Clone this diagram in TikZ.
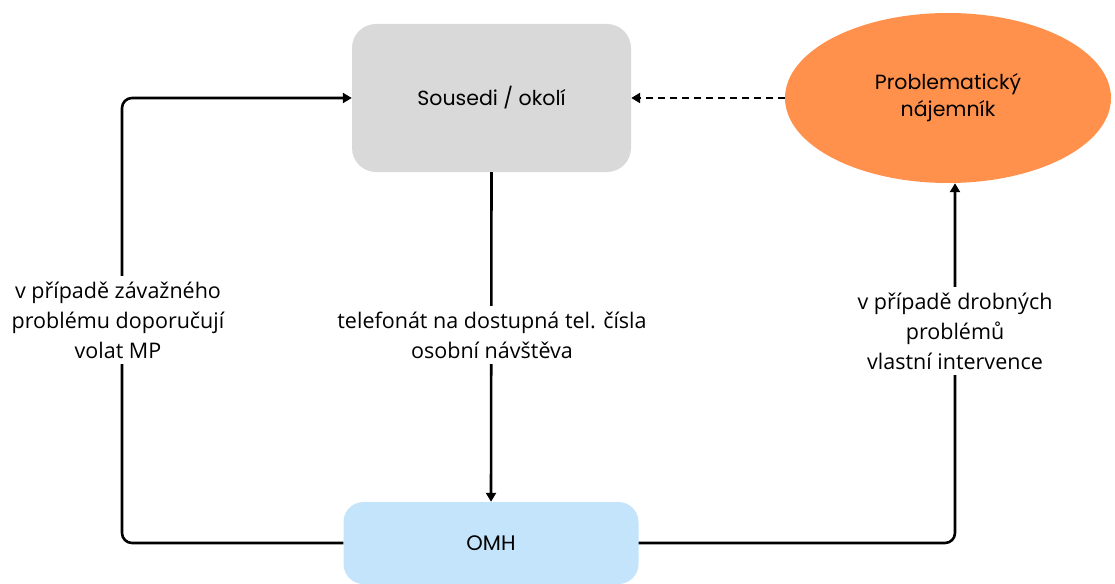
\documentclass[tikz,border=0pt]{standalone}
\usepackage{fontspec}
\setmainfont{Open Sans}
\newfontfamily\boxfont{Poppins}
\usetikzlibrary{shapes.geometric,arrows.meta}
\definecolor{boxgray}{HTML}{D9D9D9}
\definecolor{tenant}{HTML}{FF914D}
\definecolor{office}{HTML}{C4E4FC}
\tikzset{
  flow/.style={line width=2.6pt, rounded corners=10pt},
  tip/.style={-{Triangle[length=9pt,width=10pt]}},
  gbox/.style={fill=boxgray, rounded corners=24pt, minimum width=279pt, minimum height=148pt, font=\boxfont\fontsize{20.5}{25}\selectfont},
  bbox/.style={fill=office, rounded corners=20pt, minimum width=295pt, minimum height=82pt, font=\boxfont\fontsize{21}{25}\selectfont},
  obox/.style={ellipse, fill=tenant, minimum width=326pt, minimum height=170pt, inner sep=0pt, font=\boxfont\fontsize{20.5}{27}\selectfont, align=center},
  lbl/.style={fill=white, align=center, inner sep=6pt, font=\fontsize{21.5}{30}\selectfont}
}
\begin{document}
\begin{tikzpicture}[x=1pt,y=-1pt]
\useasboundingbox (0,0) rectangle (1115,583);
% boxes
\node[gbox] (sous) at (491.5,98) {Sousedi / okolí};
\node[obox] (prob) at (948,98) {Problematický\\nájemník};
\node[bbox] (omh) at (491,543) {OMH};
% helper points for the side routes
\coordinate (lt) at (122,98);
\coordinate (rb) at (955,543);
% connectors
\draw[flow,tip] (omh.west) -| (lt) -- (sous.west);
\draw[flow,tip] (omh.east) -| (prob.south -| rb);
\draw[flow,tip] (sous.south) -- (omh.north);
\draw[line width=2.6pt,dash pattern=on 7pt off 5pt,tip] (prob.west) -- (sous.east);
% labels on the routes
\node[lbl] at (118,320) {v případě závažného\\problému doporučují\\volat MP};
\node[lbl] at (492,335) {telefonát na dostupná tel. čísla\\osobní návštěva};
\node[lbl] at (955,331) {v případě drobných\\problémů\\vlastní intervence};
\end{tikzpicture}
\end{document}
